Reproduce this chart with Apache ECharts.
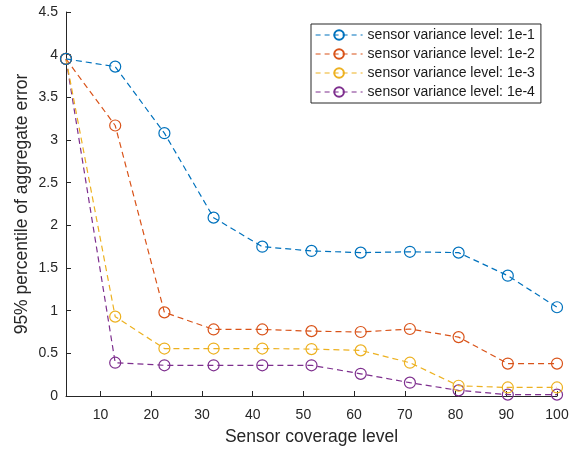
<!DOCTYPE html>
<html>
<head>
<meta charset="utf-8">
<script src="https://cdn.jsdelivr.net/npm/echarts@6/dist/echarts.min.js"></script>
<style>html,body{margin:0;padding:0;background:#fff;}#c{width:580px;height:451px;}</style>
</head>
<body>
<div id="c"></div>
<script>
const coverage = [3.2, 12.9, 22.6, 32.3, 41.9, 51.6, 61.3, 71.0, 80.6, 90.3, 100];
const var1e1 = [3.95, 3.86, 3.08, 2.09, 1.75, 1.70, 1.68, 1.69, 1.68, 1.41, 1.04];
const var1e2 = [3.95, 3.17, 0.98, 0.78, 0.78, 0.76, 0.75, 0.785, 0.69, 0.38, 0.38];
const var1e3 = [3.95, 0.93, 0.556, 0.556, 0.556, 0.55, 0.535, 0.39, 0.12, 0.10, 0.10];
const var1e4 = [3.95, 0.39, 0.36, 0.36, 0.36, 0.36, 0.26, 0.156, 0.066, 0.016, 0.016];
const seriesNames = ['sensor variance level: 1e-1','sensor variance level: 1e-2','sensor variance level: 1e-3','sensor variance level: 1e-4'];
const xTicks = [10,20,30,40,50,60,70,80,90,100];
const colors = ['#0072BD','#D95319','#EDB120','#7E2F8E'];
const allY = [var1e1, var1e2, var1e3, var1e4];

const font = 'Liberation Sans, Arial, Helvetica, sans-serif';
const axisColor = '#262626';
const chart = echarts.init(document.getElementById('c'), null, {renderer:'canvas'});
chart.setOption({
  animation: false,
  backgroundColor: '#fff',
  color: colors,
  grid: {left: 66, right: 23, top: 12, bottom: 53, containLabel: false},
  legend: {
    orient: 'vertical',
    left: 311, top: 24,
    padding: [4, 6, 4, 4],
    itemGap: 5,
    itemWidth: 47,
    itemHeight: 12,
    backgroundColor: '#fff',
    borderColor: '#262626',
    borderWidth: 1,
    lineStyle: {type: [5, 4], width: 1.2},
    textStyle: {fontFamily: font, fontSize: 14, color: '#1a1a1a'},
    data: seriesNames
  },
  xAxis: {
    type: 'value', min: 3.2, max: 100,
    name: 'Sensor coverage level', nameLocation: 'middle', nameGap: 32,
    nameMoveOverlap: false,
    nameTextStyle: {fontFamily: font, fontSize: 17.5, color: axisColor},
    axisLine: {show: true, onZero: false, lineStyle: {color: axisColor, width: 1}},
    axisTick: {show: true, inside: true, length: 5, customValues: xTicks, lineStyle: {color: axisColor}},
    axisLabel: {customValues: xTicks, fontFamily: font, fontSize: 14, color: axisColor, margin: 12},
    splitLine: {show: false}
  },
  yAxis: {
    type: 'value', min: 0, max: 4.5, interval: 0.5,
    name: '95% percentile of aggregate error', nameLocation: 'middle', nameGap: 35,
    nameMoveOverlap: false,
    nameTextStyle: {fontFamily: font, fontSize: 17.5, color: axisColor},
    axisLine: {show: true, lineStyle: {color: axisColor, width: 1}},
    axisTick: {show: true, inside: true, length: 5, lineStyle: {color: axisColor}},
    axisLabel: {fontFamily: font, fontSize: 14, color: axisColor, margin: 8},
    splitLine: {show: false}
  },
  series: allY.map((ys, i) => ({
    name: seriesNames[i],
    type: 'line',
    data: coverage.map((x, j) => [x, ys[j]]),
    symbol: 'circle',
    symbolSize: 11,
    showSymbol: true,
    lineStyle: {color: colors[i], width: 1.2, type: [6, 4]},
    itemStyle: {color: 'rgba(255,255,255,0)', borderColor: colors[i], borderWidth: 1.2},
    z: 10 - i
  }))
});
</script>
</body>
</html>
